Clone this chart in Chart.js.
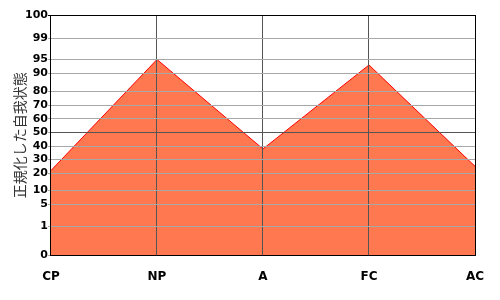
<!DOCTYPE html>
<html>
<head>
<meta charset="utf-8">
<script src="https://cdn.jsdelivr.net/npm/chart.js@4/dist/chart.umd.min.js"></script>
<style>
  html, body { margin: 0; padding: 0; background: #fff; }
  #wrap { width: 500px; height: 300px; }
</style>
</head>
<body>
<div id="wrap"><canvas id="ego"></canvas></div>
<script>
// Egogram data (normalized percentile per ego state)
const CATEGORIES = ['CP', 'NP', 'A', 'FC', 'AC'];
const EGO_VALUES = [22, 95, 38, 93, 25];
const Y_TICKS = [0, 1, 5, 10, 20, 30, 40, 50, 60, 70, 80, 90, 95, 99, 100];
const Y_TITLE = '正規化した自我状態';

// Non-linear percentile axis: where each tick sits as a fraction of the axis height
const SCALE_FRACTIONS = [0, 0.121, 0.2125, 0.271, 0.342, 0.4, 0.454, 0.5125,
                         0.568, 0.625, 0.683, 0.758, 0.815, 0.904, 1];

function toDecimal(v) {
    if (v <= Y_TICKS[0]) return 0;
    for (let i = 1; i < Y_TICKS.length; i++) {
        if (v <= Y_TICKS[i]) {
            const t = (v - Y_TICKS[i - 1]) / (Y_TICKS[i] - Y_TICKS[i - 1]);
            return SCALE_FRACTIONS[i - 1] + t * (SCALE_FRACTIONS[i] - SCALE_FRACTIONS[i - 1]);
        }
    }
    return 1;
}

function fromDecimal(d) {
    for (let i = 1; i < SCALE_FRACTIONS.length; i++) {
        if (d <= SCALE_FRACTIONS[i]) {
            const t = (d - SCALE_FRACTIONS[i - 1]) / (SCALE_FRACTIONS[i] - SCALE_FRACTIONS[i - 1]);
            return Y_TICKS[i - 1] + t * (Y_TICKS[i] - Y_TICKS[i - 1]);
        }
    }
    return 100;
}

class PercentileScale extends Chart.LinearScale {
    determineDataLimits() {
        this.min = 0;
        this.max = 100;
    }
    buildTicks() {
        return Y_TICKS.map(v => ({ value: v }));
    }
    getPixelForValue(value) {
        return this.getPixelForDecimal(toDecimal(value));
    }
    getValueForPixel(pixel) {
        return fromDecimal(this.getDecimalForPixel(pixel));
    }
}
PercentileScale.id = 'percentile';
PercentileScale.defaults = {};
Chart.register(PercentileScale);

const DARK = '#555555';
const LIGHT = '#a8a8a8';

new Chart(document.getElementById('ego'), {
    type: 'line',
    data: {
        labels: CATEGORIES,
        datasets: [{
            data: EGO_VALUES,
            borderColor: '#ff0000',
            borderWidth: 1,
            backgroundColor: '#ff7850',
            fill: 'start',
            tension: 0,
            pointRadius: 0
        }]
    },
    options: {
        responsive: true,
        maintainAspectRatio: false,
        animation: false,
        layout: { padding: { left: 5, right: 25, top: 15, bottom: 2 } },
        plugins: { legend: { display: false }, tooltip: { enabled: false } },
        scales: {
            x: {
                type: 'category',
                offset: false,
                border: { color: '#000', width: 1, z: 1 },
                grid: {
                    z: 1,
                    drawTicks: false,
                    color: ctx => (ctx.index === 0 || ctx.index === CATEGORIES.length - 1) ? '#000' : DARK,
                    lineWidth: 1
                },
                ticks: {
                    padding: 14,
                    maxRotation: 0,
                    color: '#000',
                    font: { family: 'DejaVu Sans', size: 12, weight: 'bold' }
                }
            },
            y: {
                type: 'percentile',
                border: { color: '#000', width: 1, z: 1 },
                grid: {
                    z: 1,
                    tickLength: 3,
                    color: ctx => {
                        const v = ctx.tick && ctx.tick.value;
                        if (v === 0 || v === 100) return '#000';
                        return v === 50 ? DARK : LIGHT;
                    },
                    tickColor: ctx => (ctx.tick && ctx.tick.value === 100) ? '#000' : LIGHT
                },
                ticks: {
                    autoSkip: false,
                    padding: 0,
                    color: '#000',
                    font: { family: 'DejaVu Sans', size: 11, weight: 'bold' },
                    callback: v => String(v)
                },
                title: {
                    display: true,
                    text: Y_TITLE,
                    color: '#333',
                    padding: { top: 8, bottom: -2 },
                    font: { family: 'Noto Sans CJK JP', size: 14, lineHeight: 1 }
                }
            }
        }
    }
});
</script>
</body>
</html>
